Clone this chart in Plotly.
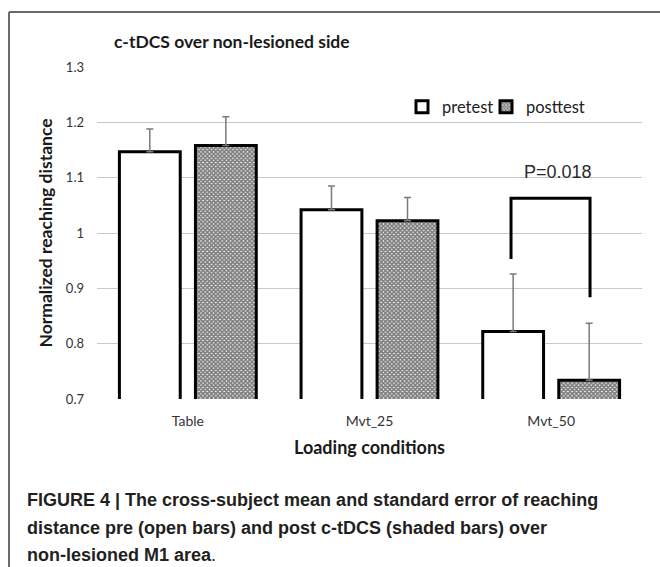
import plotly.graph_objects as go

categories = ["Table", "Mvt_25", "Mvt_50"]
pretest = [1.147, 1.042, 0.822]
posttest = [1.158, 1.022, 0.734]
pre_err = [0.041, 0.043, 0.104]
post_err = [0.052, 0.042, 0.103]
ytick_vals = [0.7, 0.8, 0.9, 1.0, 1.1, 1.2, 1.3]
ytick_text = ["0.7", "0.8", "0.9", "1", "1.1", "1.2", "1.3"]
p_label = "P=0.018"
bracket_top = 1.063
bracket_left_end = 0.953
bracket_right_end = 0.884

CH = "Lato, 'Open Sans', sans-serif"
CAP = "'Liberation Sans', Arial, sans-serif"

fig = go.Figure()
fig.add_trace(go.Bar(
    x=categories, y=pretest, name="pretest", legend="legend",
    marker=dict(color="white", line=dict(color="black", width=3)),
    error_y=dict(type="data", symmetric=False, array=pre_err,
                 arrayminus=[0] * len(pre_err), color="#7a7a7a",
                 thickness=1.5, width=3.5),
))
fig.add_trace(go.Bar(
    x=categories, y=posttest, name="posttest", legend="legend2",
    marker=dict(color="white", line=dict(color="black", width=3),
                pattern=dict(shape="x", fgcolor="black", bgcolor="white",
                             size=3, solidity=0.8)),
    error_y=dict(type="data", symmetric=False, array=post_err,
                 arrayminus=[0] * len(post_err), color="#7a7a7a",
                 thickness=1.5, width=3.5),
))

W, H = 660, 567
L, R, T, B = 97, 18, 67, 168
pw, ph = W - L - R, H - T - B

def px(xp):
    return (xp - L) / pw

def py(yp):
    return (H - B - yp) / ph

shapes = [
    dict(type="line", xref="paper", yref="paper", x0=px(9), x1=px(662),
         y0=py(12), y1=py(12), line=dict(color="#6a6a6a", width=2)),
    dict(type="line", xref="paper", yref="paper", x0=px(9), x1=px(9),
         y0=py(12), y1=py(570), line=dict(color="#6a6a6a", width=2)),
    dict(type="path", xref="x", yref="y",
         path=f"M 1.779,{bracket_left_end} L 1.779,{bracket_top} L 2.214,{bracket_top} L 2.214,{bracket_right_end}",
         line=dict(color="black", width=3)),
]

annotations = [
    dict(text="<b>c-tDCS over non-lesioned side</b>", xref="paper", yref="paper",
         x=px(112), y=py(42), xanchor="left", yanchor="middle", showarrow=False,
         font=dict(family=CH, size=17.5, color="#1a1a1a")),
    dict(text=p_label, xref="x", yref="paper", x=2.035, y=py(172),
         xanchor="center", yanchor="middle", showarrow=False,
         font=dict(family=CAP, size=18, color="#2a2a2a")),
    dict(text="<b>FIGURE 4 | The cross-subject mean and standard error of reaching</b>",
         xref="paper", yref="paper", x=px(25), y=py(500), xanchor="left",
         yanchor="middle", showarrow=False, font=dict(family=CAP, size=18, color="#231f20")),
    dict(text="<b>distance pre (open bars) and post c-tDCS (shaded bars) over</b>",
         xref="paper", yref="paper", x=px(25), y=py(528), xanchor="left",
         yanchor="middle", showarrow=False, font=dict(family=CAP, size=18, color="#231f20")),
    dict(text="<b>non-lesioned M1 area</b>.",
         xref="paper", yref="paper", x=px(25), y=py(555), xanchor="left",
         yanchor="middle", showarrow=False, font=dict(family=CAP, size=18, color="#231f20")),
]

legend_common = dict(orientation="h", yanchor="middle", xanchor="left",
                     font=dict(family=CH, size=16.5, color="#222222"),
                     bgcolor="rgba(0,0,0,0)")

fig.update_layout(
    width=W, height=H, autosize=False,
    margin=dict(l=L, r=R, t=T, b=B),
    paper_bgcolor="white", plot_bgcolor="white",
    barmode="group", bargap=0.163, bargroupgap=0.2,
    font=dict(family=CH, color="#333333"),
    showlegend=True,
    legend=dict(x=px(402), y=py(107), **legend_common),
    legend2=dict(x=px(486), y=py(107), **legend_common),
    xaxis=dict(showgrid=False, showline=False, ticks="", zeroline=False,
               ticklabelstandoff=12,
               tickfont=dict(family=CH, size=14, color="#333333"),
               title=dict(text="<b>Loading conditions</b>", standoff=13,
                          font=dict(family=CH, size=18, color="#1a1a1a"))),
    yaxis=dict(range=[0.7, 1.3], tickvals=ytick_vals, ticktext=ytick_text,
               showgrid=True, gridcolor="#c8c8c8", gridwidth=1.2,
               zeroline=False, showline=False, ticks="",
               ticklabelstandoff=12,
               tickfont=dict(family=CH, size=13, color="#333333"),
               title=dict(text="<b>Normalized reaching distance</b>", standoff=8,
                          font=dict(family=CH, size=17.5, color="#1a1a1a"))),
    shapes=shapes, annotations=annotations,
)

fig.write_html(
    "out.html",
    config={"responsive": False, "displayModeBar": False},
    post_script="document.body.style.margin='0';document.documentElement.style.overflow='hidden';document.body.style.overflow='hidden';",
)
